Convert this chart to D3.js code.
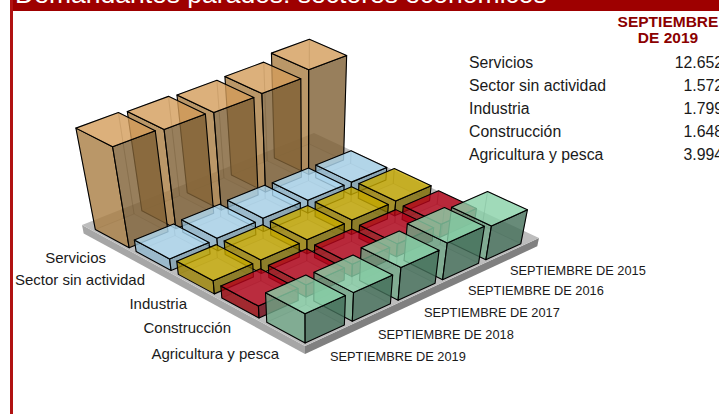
<!DOCTYPE html>
<html>
<head>
<meta charset="utf-8">
<script src="https://cdn.jsdelivr.net/npm/d3@7/dist/d3.min.js"></script>
<style>
  html, body { margin: 0; padding: 0; background: #fff; overflow: hidden; }
  text { font-family: "Liberation Sans", Arial, sans-serif; fill: #1a1a1a; }
</style>
</head>
<body>
<div id="chart"></div>
<script>
var title = "Demandantes parados: sectores económicos"
var tableHead = ["SEPTIEMBRE", "DE 2019"]
var years = ["2015", "2016", "2017", "2018", "2019"]
var yearLabels = years.map(function(y){ return "SEPTIEMBRE DE " + y })
var sectors = ["Servicios", "Sector sin actividad", "Industria", "Construcción", "Agricultura y pesca"]
var tableValues = ["12.652", "1.572", "1.799", "1.648", "3.994"]

// one row per sector, one value per year (2015..2019)
var servicios = [13000, 12300, 12200, 12400, 12652]
var sinActividad = [1700, 1700, 1800, 1700, 1572]
var industria = [2000, 1950, 1900, 1850, 1799]
var construccion = [1800, 1750, 1700, 1650, 1648]
var agricultura = [4500, 4900, 4400, 3900, 3994]
var rows = [servicios, sinActividad, industria, construccion, agricultura]

// top, left face, right face as they look in the picture
var sectorColors = [
    ["#deb37f", "#bc9a6c", "#9a8260"],
    ["#b4d6e9", "#9bb9cc", "#8da7b5"],
    ["#c6b01f", "#a39018", "#8d7e18"],
    ["#b92c3d", "#a01f30", "#7f2a35"],
    ["#96cfae", "#80ab92", "#5d7f6e"]
]
// what each row mostly sits on
var sectorBackdrop = [255, 189, 189, 189, 189]

// label placement
var sectorLabelX = [106, 145, 187, 231, 279]
var sectorLabelY = [263, 285, 309, 333, 359]
var yearLabelX = [510, 468, 424, 378, 330]
var yearLabelY = [275, 295, 317, 339, 361]

var width = 719, height = 414

// plate corners on screen: front, right, back, left
var plate = [[305, 346], [539, 238], [314, 133], [82, 225]]
// vanishing point of the verticals
var vp = [308, 1340]

var h = homography(plate)

var x = d3.scaleBand().domain(years.slice().reverse()).range([0.012, 0.93]).paddingInner(0.17)
var y = d3.scaleBand().domain(sectors.slice().reverse()).range([0.012, 0.95]).paddingInner(0.17)
var z = d3.scaleLinear().domain([0, 14000]).range([0, -0.1])

function homography(q) {
    var dx1 = q[1][0] - q[2][0], dx2 = q[3][0] - q[2][0], sx = q[0][0] - q[1][0] + q[2][0] - q[3][0]
    var dy1 = q[1][1] - q[2][1], dy2 = q[3][1] - q[2][1], sy = q[0][1] - q[1][1] + q[2][1] - q[3][1]
    var den = dx1 * dy2 - dx2 * dy1
    var g = (sx * dy2 - dx2 * sy) / den, k = (dx1 * sy - sx * dy1) / den
    return {
        a: q[1][0] - q[0][0] + g * q[1][0], b: q[3][0] - q[0][0] + k * q[3][0], c: q[0][0],
        d: q[1][1] - q[0][1] + g * q[1][1], e: q[3][1] - q[0][1] + k * q[3][1], f: q[0][1],
        g: g, k: k
    }
}

// u along the years, v along the sectors, w the height
function project(p) {
    var w = h.g * p[0] + h.k * p[1] + 1 + p[2]
    return [
        (h.a * p[0] + h.b * p[1] + h.c + p[2] * vp[0]) / w,
        (h.d * p[0] + h.e * p[1] + h.f + p[2] * vp[1]) / w
    ]
}

var line = d3.line().x(function(d){ return project(d)[0] }).y(function(d){ return project(d)[1] })

function face(pts) { return line(pts) + "Z" }

function boxFaces(u0, u1, v0, v1, w0, w1) {
    return {
        bottom: face([[u0, v0, w0], [u1, v0, w0], [u1, v1, w0], [u0, v1, w0]]),
        backU: face([[u1, v0, w0], [u1, v1, w0], [u1, v1, w1], [u1, v0, w1]]),
        backV: face([[u0, v1, w0], [u1, v1, w0], [u1, v1, w1], [u0, v1, w1]]),
        left: face([[u0, v0, w0], [u0, v1, w0], [u0, v1, w1], [u0, v0, w1]]),
        right: face([[u0, v0, w0], [u1, v0, w0], [u1, v0, w1], [u0, v0, w1]]),
        top: face([[u0, v0, w1], [u1, v0, w1], [u1, v1, w1], [u0, v1, w1]])
    }
}

// colour to paint at this alpha so it reads as c on the given backdrop
function unblend(c, a, back) {
    var o = d3.rgb(c), f = function(v){ return Math.max(0, Math.min(255, (v - back * (1 - a)) / a)) }
    return d3.rgb(f(o.r), f(o.g), f(o.b)) + ""
}

var svg = d3.select("#chart").append("svg").attr("width", width).attr("height", height).style("display", "block")

// header band and left rule
svg.append("rect").attr("x", 10).attr("y", 0).attr("width", width - 10).attr("height", 11).attr("fill", "#9e0000")
svg.append("rect").attr("x", 10).attr("y", 0).attr("width", 3).attr("height", height).attr("fill", "#b01212")
svg.append("text").attr("x", 15).attr("y", 3).attr("font-size", 26.5).style("fill", "#fff").text(title)

// plate
var pf = boxFaces(0, 1, 0, 1, z(-1150), 0)
svg.append("path").attr("d", pf.left).attr("fill", "#a6a6a6")
svg.append("path").attr("d", pf.right).attr("fill", "#808080")
svg.append("path").attr("d", pf.top).attr("fill", "#bdbdbd")

// bars, far ones first
var alpha = 0.78
var bars = []
sectors.forEach(function(s, i){
    years.forEach(function(yr, j){
        bars.push({sector: s, year: yr, value: rows[i][j], colors: sectorColors[i], back: sectorBackdrop[i]})
    })
})

var bar = svg.append("g").selectAll("g").data(bars).enter().append("g")
bar.each(function(d){
    var f = boxFaces(x(d.year), x(d.year) + x.bandwidth(), y(d.sector), y(d.sector) + y.bandwidth(), 0, z(d.value))
    var g = d3.select(this)
    // hidden faces show through faintly
    ;[f.backU, f.backV].forEach(function(p){
        g.append("path").attr("d", p).attr("fill", d.colors[2]).attr("fill-opacity", 0.12)
            .attr("stroke", "#000").attr("stroke-opacity", 0.16).attr("stroke-width", 1)
    })
    ;[[f.left, 1], [f.right, 2], [f.top, 0]].forEach(function(p){
        g.append("path").attr("d", p[0])
            .attr("fill", unblend(d.colors[p[1]], alpha, d.back)).attr("fill-opacity", alpha)
            .attr("stroke", "#000").attr("stroke-width", 1.1).attr("stroke-linejoin", "round")
    })
})

// labels
svg.append("g").selectAll("text").data(sectors).enter().append("text")
    .attr("x", function(d, i){ return sectorLabelX[i] }).attr("y", function(d, i){ return sectorLabelY[i] })
    .attr("text-anchor", "end").attr("font-size", 15).text(function(d){ return d })

svg.append("g").selectAll("text").data(yearLabels).enter().append("text")
    .attr("x", function(d, i){ return yearLabelX[i] }).attr("y", function(d, i){ return yearLabelY[i] })
    .attr("font-size", 12.8).text(function(d){ return d })

// table
svg.append("g").selectAll("text").data(tableHead).enter().append("text")
    .attr("x", 668).attr("y", function(d, i){ return 27 + i * 16 }).attr("text-anchor", "middle")
    .attr("font-size", 15.5).attr("font-weight", "bold").style("fill", "#8b0000").text(function(d){ return d })
svg.append("g").selectAll("text").data(sectors).enter().append("text")
    .attr("x", 469).attr("y", function(d, i){ return 68 + i * 23 }).attr("font-size", 15.8).text(function(d){ return d })
svg.append("g").selectAll("text").data(tableValues).enter().append("text")
    .attr("x", 723).attr("y", function(d, i){ return 68 + i * 23 }).attr("text-anchor", "end").attr("font-size", 15.8).text(function(d){ return d })
</script>
</body>
</html>
